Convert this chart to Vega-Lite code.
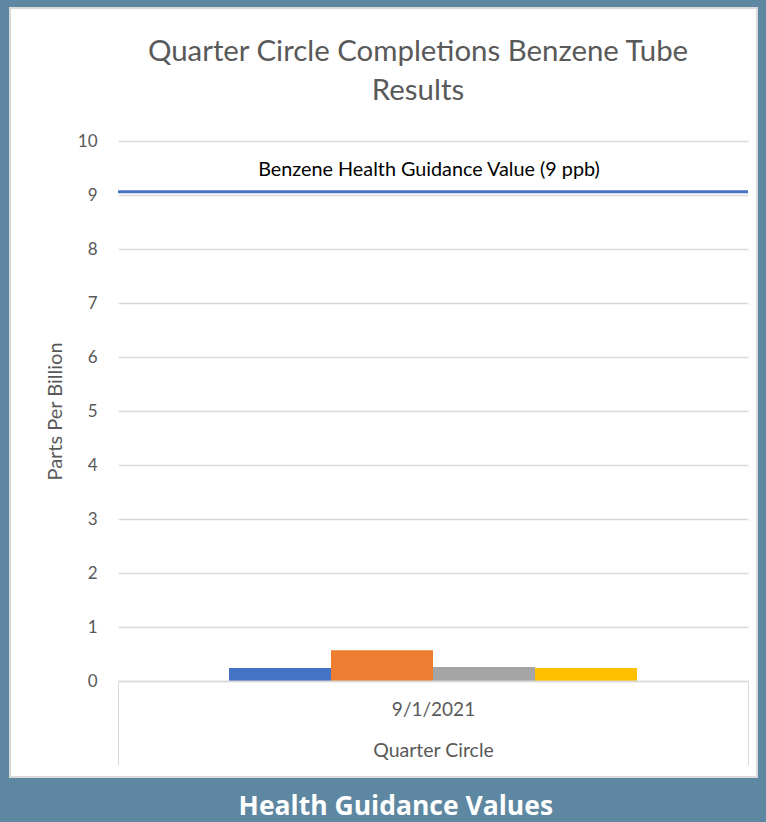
{
  "$schema": "https://vega.github.io/schema/vega-lite/v6.json",
  "width": 630,
  "height": 540,
  "autosize": "none",
  "padding": {"left": 118, "top": 141, "right": 18, "bottom": 141},
  "background": "#5E87A2",
  "config": {
    "font": "Lato",
    "view": {"stroke": null}
  },
  "title": {
    "text": ["Quarter Circle Completions Benzene Tube", "Results"],
    "fontSize": 29.4,
    "fontWeight": "normal",
    "color": "#595959",
    "anchor": "middle",
    "frame": "group",
    "dx": -15,
    "lineHeight": 39,
    "offset": -99
  },
  "datasets": {
    "tubes": [
      {"date": "9/1/2021", "tube": "Tube 1", "ppb": 0.24},
      {"date": "9/1/2021", "tube": "Tube 2", "ppb": 0.57},
      {"date": "9/1/2021", "tube": "Tube 3", "ppb": 0.26},
      {"date": "9/1/2021", "tube": "Tube 4", "ppb": 0.24}
    ],
    "guidance": [
      {"label": "Benzene Health Guidance Value (9 ppb)", "date": "9/1/2021", "ppb": 9.06}
    ],
    "footer": [
      {"text": "Health Guidance Values"}
    ]
  },
  "layer": [
    {
      "data": {"name": "footer"},
      "layer": [
        {
          "mark": {"type": "rect", "fill": "#FFFFFF", "stroke": "#D9D9D9", "strokeWidth": 2, "clip": false},
          "encoding": {
            "x": {"datum": -0.1714, "type": "quantitative", "scale": {"domain": [0, 1], "nice": false, "zero": false}, "axis": null},
            "x2": {"datum": 1.0143},
            "y": {"datum": 12.463, "type": "quantitative", "scale": {"domain": [0, 10], "nice": false}},
            "y2": {"datum": -1.778}
          }
        },
        {
          "mark": {"type": "text", "color": "#FFFFFF", "fontSize": 26.5, "fontWeight": "bold", "font": "Open Sans", "align": "center", "baseline": "middle", "clip": false},
          "encoding": {
            "x": {"datum": 0.441, "type": "quantitative", "scale": {"domain": [0, 1], "nice": false, "zero": false}, "axis": null},
            "y": {"datum": -2.333, "type": "quantitative"},
            "text": {"field": "text"}
          }
        }
      ]
    },
    {
      "layer": [
        {
          "data": {"name": "tubes"},
          "mark": {"type": "bar"},
          "encoding": {
            "x": {
              "field": "date", "type": "nominal",
              "scale": {"paddingInner": 0, "paddingOuter": 0},
              "axis": {
                "title": "Quarter Circle",
                "titleFontSize": 19.5, "titleFontWeight": "normal", "titleColor": "#595959",
                "titleY": 69, "titleBaseline": "middle",
                "labelAngle": 0, "labelFontSize": 19, "labelColor": "#595959",
                "labelPadding": -56, "labelBaseline": "middle",
                "tickBand": "extent", "tickSize": 84, "tickColor": "#D9D9D9", "tickWidth": 1,
                "domainColor": "#D9D9D9", "domainWidth": 1.5,
                "grid": false, "zindex": 1
              }
            },
            "xOffset": {"field": "tube", "type": "nominal", "scale": {"range": [111, 519]}},
            "y": {
              "field": "ppb", "type": "quantitative",
              "scale": {"domain": [0, 10], "nice": false},
              "axis": {
                "title": "Parts Per Billion",
                "titleFontSize": 20, "titleFontWeight": "normal", "titleColor": "#595959", "titlePadding": 12,
                "values": [0, 1, 2, 3, 4, 5, 6, 7, 8, 9, 10],
                "labelFontSize": 17, "labelColor": "#595959", "labelPadding": 21,
                "ticks": false, "domain": false,
                "grid": true, "gridColor": "#D9D9D9", "gridWidth": 1.3,
                "zindex": 1
              }
            },
            "color": {
              "field": "tube", "type": "nominal",
              "scale": {"domain": ["Tube 1", "Tube 2", "Tube 3", "Tube 4"], "range": ["#4472C4", "#ED7D31", "#A5A5A5", "#FFC000"]},
              "legend": null
            }
          }
        },
        {
          "data": {"name": "guidance"},
          "mark": {"type": "rule", "color": "#4472C4", "strokeWidth": 3},
          "encoding": {
            "y": {"field": "ppb", "type": "quantitative"}
          }
        },
        {
          "data": {"name": "guidance"},
          "mark": {"type": "text", "fontSize": 19.8, "color": "#000000", "align": "center", "baseline": "middle", "dx": -4},
          "encoding": {
            "x": {"field": "date", "type": "nominal"},
            "y": {"datum": 9.46, "type": "quantitative"},
            "text": {"field": "label"}
          }
        }
      ]
    }
  ],
  "resolve": {"scale": {"x": "independent"}, "axis": {"x": "independent"}}
}
